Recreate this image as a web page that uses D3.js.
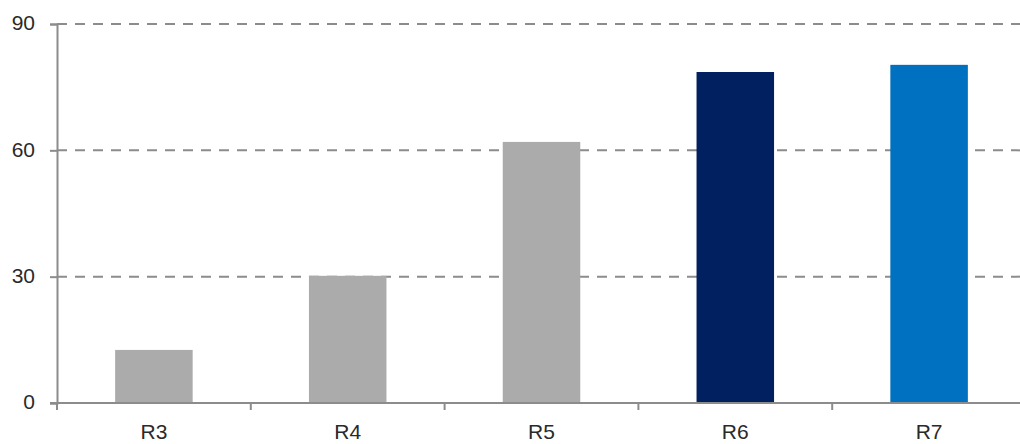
<!DOCTYPE html>
<html>
<head>
<meta charset="utf-8">
<script src="https://cdn.jsdelivr.net/npm/d3@7"></script>
<style>
  html, body { margin: 0; padding: 0; background: #fff; }
  svg text { font-family: "Liberation Sans Narrow", "Liberation Sans", Arial, sans-serif; font-size: 21px; fill: #2a2a2a; }
</style>
</head>
<body>
<svg id="chart" width="1020" height="444"></svg>
<script>
const categories = ["R3", "R4", "R5", "R6", "R7"];
const values = [12.6, 30.2, 62.0, 78.6, 80.3];
const barColors = ["#ABABAB", "#ABABAB", "#ABABAB", "#002060", "#0070C0"];
const yTicks = [0, 30, 60, 90];

(function () {
  const svg = d3.select("#chart");
  const mLeft = 57, mRight = 1026, mTop = 24, mBottom = 403;

  const x = d3.scaleBand().domain(categories).range([mLeft, mRight]).paddingInner(0.6).paddingOuter(0.3);
  const xEdge = d3.scaleLinear().domain([0, categories.length]).range([mLeft, mRight]);
  const y = d3.scaleLinear().domain([0, 90]).range([mBottom, mTop]);

  // dashed gridlines
  svg.append("g").selectAll("line")
    .data(yTicks.filter(d => d > 0))
    .join("line")
    .attr("x1", mLeft).attr("x2", 1020)
    .attr("y1", d => y(d)).attr("y2", d => y(d))
    .attr("stroke", "#8c8c8c").attr("stroke-width", 2)
    .attr("stroke-dasharray", "10,8");

  // bars
  svg.append("g").selectAll("rect")
    .data(values)
    .join("rect")
    .attr("x", (d, i) => x(categories[i]))
    .attr("width", x.bandwidth())
    .attr("y", d => y(d))
    .attr("height", d => y(0) - y(d))
    .attr("fill", (d, i) => barColors[i]);

  // y axis
  const yAxis = svg.append("g").attr("transform", `translate(${mLeft},0)`)
    .call(d3.axisLeft(y).tickValues(yTicks).tickSize(7).tickPadding(15));
  yAxis.select(".domain").attr("stroke", "#8c8c8c").attr("stroke-width", 2);
  yAxis.selectAll(".tick line").attr("stroke", "#8c8c8c").attr("stroke-width", 2);
  yAxis.selectAll("text")
    .style("font-family", "'Liberation Sans Narrow', 'Liberation Sans', Arial, sans-serif")
    .style("font-size", "21px").attr("fill", "#2a2a2a").attr("dy", "0.28em");

  // x axis with ticks at category boundaries
  const xg = svg.append("g");
  xg.append("line").attr("x1", mLeft - 7).attr("x2", 1020)
    .attr("y1", mBottom).attr("y2", mBottom)
    .attr("stroke", "#8c8c8c").attr("stroke-width", 2);
  xg.selectAll("line.tk")
    .data(d3.range(0, categories.length))
    .join("line").attr("class", "tk")
    .attr("x1", d => xEdge(d)).attr("x2", d => xEdge(d))
    .attr("y1", mBottom).attr("y2", mBottom + 7)
    .attr("stroke", "#8c8c8c").attr("stroke-width", 2);
  xg.selectAll("text.lbl")
    .data(categories)
    .join("text").attr("class", "lbl")
    .attr("x", d => x(d) + x.bandwidth() / 2)
    .attr("y", 439)
    .attr("text-anchor", "middle")
    .text(d => d);
})();
</script>
</body>
</html>
